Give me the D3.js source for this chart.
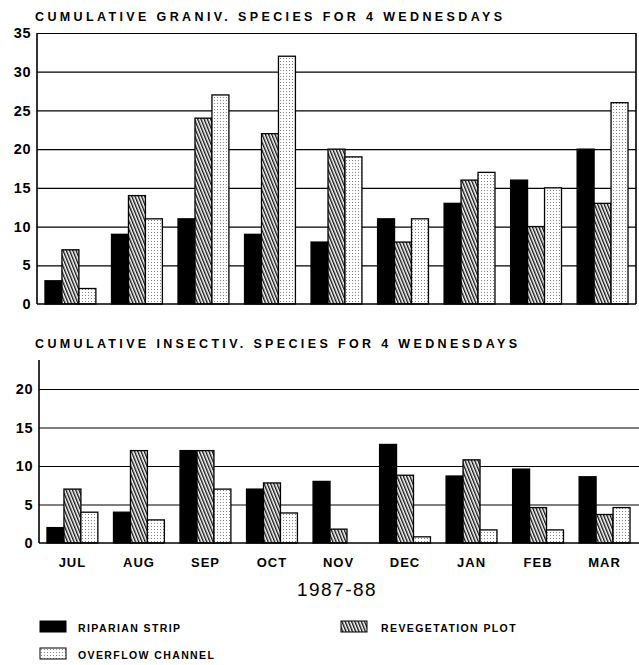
<!DOCTYPE html>
<meta charset="utf-8" />
<html>
<head>
<title>cumulative species</title>
<script src="https://cdn.jsdelivr.net/npm/d3@7"></script>
<style>
body { margin: 0; background: #fff; }
svg { display: block; }
text { font-family: "Liberation Sans", Arial, sans-serif; fill: #000; }
.tick line { stroke: #000; }
</style>
</head>
<body>
<div id="viz"></div>
<script>

// data
var months = ["JUL", "AUG", "SEP", "OCT", "NOV", "DEC", "JAN", "FEB", "MAR"];
var seriesNames = ["RIPARIAN STRIP", "REVEGETATION PLOT", "OVERFLOW CHANNEL"];

var granRiparian = [3, 9, 11, 9, 8, 11, 13, 16, 20];
var granReveg    = [7, 14, 24, 22, 20, 8, 16, 10, 13];
var granOverflow = [2, 11, 27, 32, 19, 11, 17, 15, 26];

var insRiparian = [2, 4, 12, 7, 8, 12.8, 8.7, 9.6, 8.6];
var insReveg    = [7, 12, 12, 7.8, 1.8, 8.8, 10.8, 4.6, 3.7];
var insOverflow = [4, 3, 7, 3.9, 0, 0.8, 1.7, 1.7, 4.6];

var granTicks = [0, 5, 10, 15, 20, 25, 30, 35];
var insTicks = [0, 5, 10, 15, 20];

var width = 639, height = 665;
var svg = d3.select("#viz").append("svg")
    .attr("width", width)
    .attr("height", height);

// fills: solid, hatch, stipple
var defs = svg.append("defs");
var hatch = defs.append("pattern")
    .attr("id", "hatch")
    .attr("patternUnits", "userSpaceOnUse")
    .attr("width", 3).attr("height", 3)
    .attr("patternTransform", "rotate(-22)");
hatch.append("rect").attr("width", 3).attr("height", 3).attr("fill", "#fff");
hatch.append("line").attr("x1", 0.5).attr("y1", 0).attr("x2", 0.5).attr("y2", 3)
    .attr("stroke", "#111").attr("stroke-width", 1.8);

var dots = defs.append("pattern")
    .attr("id", "dots")
    .attr("patternUnits", "userSpaceOnUse")
    .attr("width", 3).attr("height", 3);
dots.append("rect").attr("width", 3).attr("height", 3).attr("fill", "#fff");
dots.append("rect").attr("x", 1).attr("y", 1).attr("width", 1).attr("height", 1).attr("fill", "#888");

var fills = ["#000", "url(#hatch)", "url(#dots)"];

function title(txt, x, y, len) {
  svg.append("text")
    .attr("x", x).attr("y", y)
    .attr("font-size", 12.5)
    .attr("font-weight", "bold")
    .attr("textLength", len)
    .attr("lengthAdjust", "spacing")
    .text(txt);
}

function panel(opts) {
  var x = d3.scaleBand().domain(months)
      .range([opts.left, opts.right])
      .paddingInner(0.235).paddingOuter(0.12);
  var sub = d3.scaleBand().domain(d3.range(3)).range([0, x.bandwidth()]);
  var y = d3.scaleLinear().domain(opts.domain).range([opts.bottom, opts.top]);

  var g = svg.append("g");

  // gridlines
  g.append("g")
    .attr("transform", "translate(" + opts.left + ",0)")
    .call(d3.axisRight(y).tickValues(opts.ticks.slice(1)).tickSize(opts.gridRight - opts.left).tickFormat(""))
    .call(function(s) { s.select(".domain").remove(); })
    .selectAll("line").attr("stroke-width", 1.2);

  // tick labels
  g.append("g")
    .attr("transform", "translate(" + (opts.left - 6) + ",0)")
    .call(d3.axisLeft(y).tickValues(opts.ticks).tickSize(0).tickPadding(0))
    .call(function(s) { s.select(".domain").remove(); })
    .selectAll("text")
    .attr("font-size", 14.5).attr("font-weight", "bold")
    .attr("letter-spacing", 0.5)
    .attr("font-family", "Liberation Sans, Arial, sans-serif");

  // bars
  var data = [];
  months.forEach(function(m, i) {
    opts.series.forEach(function(s, j) { data.push({m: m, j: j, v: s[i]}); });
  });
  g.selectAll("rect.bar").data(data.filter(function(d) { return d.v > 0; }))
    .enter().append("rect")
    .attr("class", "bar")
    .attr("x", function(d) { return x(d.m) + sub(d.j); })
    .attr("width", sub.bandwidth())
    .attr("y", function(d) { return y(d.v); })
    .attr("height", function(d) { return y(0) - y(d.v); })
    .attr("fill", function(d) { return fills[d.j]; })
    .attr("stroke", "#000")
    .attr("stroke-width", 1.3);

  // axes lines
  g.append("line")
    .attr("x1", opts.left).attr("x2", opts.gridRight)
    .attr("y1", y(0)).attr("y2", y(0))
    .attr("stroke", "#000").attr("stroke-width", 1.6);
  g.append("line")
    .attr("x1", opts.left).attr("x2", opts.left)
    .attr("y1", y(0)).attr("y2", opts.axisTop)
    .attr("stroke", "#000").attr("stroke-width", 1.6);
  if (opts.frame) {
    g.append("line")
      .attr("x1", opts.gridRight).attr("x2", opts.gridRight)
      .attr("y1", y(0)).attr("y2", opts.top)
      .attr("stroke", "#000").attr("stroke-width", 1.6);
  }
  return x;
}

title("CUMULATIVE GRANIV. SPECIES FOR 4 WEDNESDAYS", 35, 21, 467);
panel({
  left: 37, right: 636, gridRight: 636, top: 33, bottom: 304, axisTop: 33,
  domain: [0, 35], ticks: granTicks, frame: true,
  series: [granRiparian, granReveg, granOverflow]
});

title("CUMULATIVE INSECTIV. SPECIES FOR 4 WEDNESDAYS", 35, 348, 482);
var xb = panel({
  left: 39, right: 638, gridRight: 639, top: 389, bottom: 543, axisTop: 360,
  domain: [0, 20], ticks: insTicks, frame: false,
  series: [insRiparian, insReveg, insOverflow]
});

// month labels
svg.append("g")
  .attr("transform", "translate(0,567)")
  .call(d3.axisBottom(xb).tickSize(0).tickPadding(0))
  .call(function(s) { s.select(".domain").remove(); })
  .selectAll("text")
  .attr("dy", 0)
  .attr("font-size", 13).attr("font-weight", "bold")
  .attr("letter-spacing", 1)
  .attr("font-family", "Liberation Sans, Arial, sans-serif");

svg.append("text")
  .attr("x", 337).attr("y", 596)
  .attr("text-anchor", "middle")
  .attr("font-size", 19)
  .attr("letter-spacing", 1.5)
  .text("1987-88");

// legend
var legendPos = [[40, 621], [341, 621], [40, 648]];
var lg = svg.append("g").selectAll("g").data(seriesNames).enter().append("g")
  .attr("transform", function(d, i) { return "translate(" + legendPos[i][0] + "," + legendPos[i][1] + ")"; });
lg.append("rect")
  .attr("width", 26).attr("height", 11)
  .attr("fill", function(d, i) { return fills[i]; })
  .attr("stroke", "#000").attr("stroke-width", 1);
lg.append("text")
  .attr("x", function(d, i) { return i == 1 ? 40 : 38; })
  .attr("y", 11)
  .attr("font-size", 10.5).attr("font-weight", "bold")
  .attr("letter-spacing", 1.4)
  .text(function(d) { return d; });

</script>
</body>
</html>
